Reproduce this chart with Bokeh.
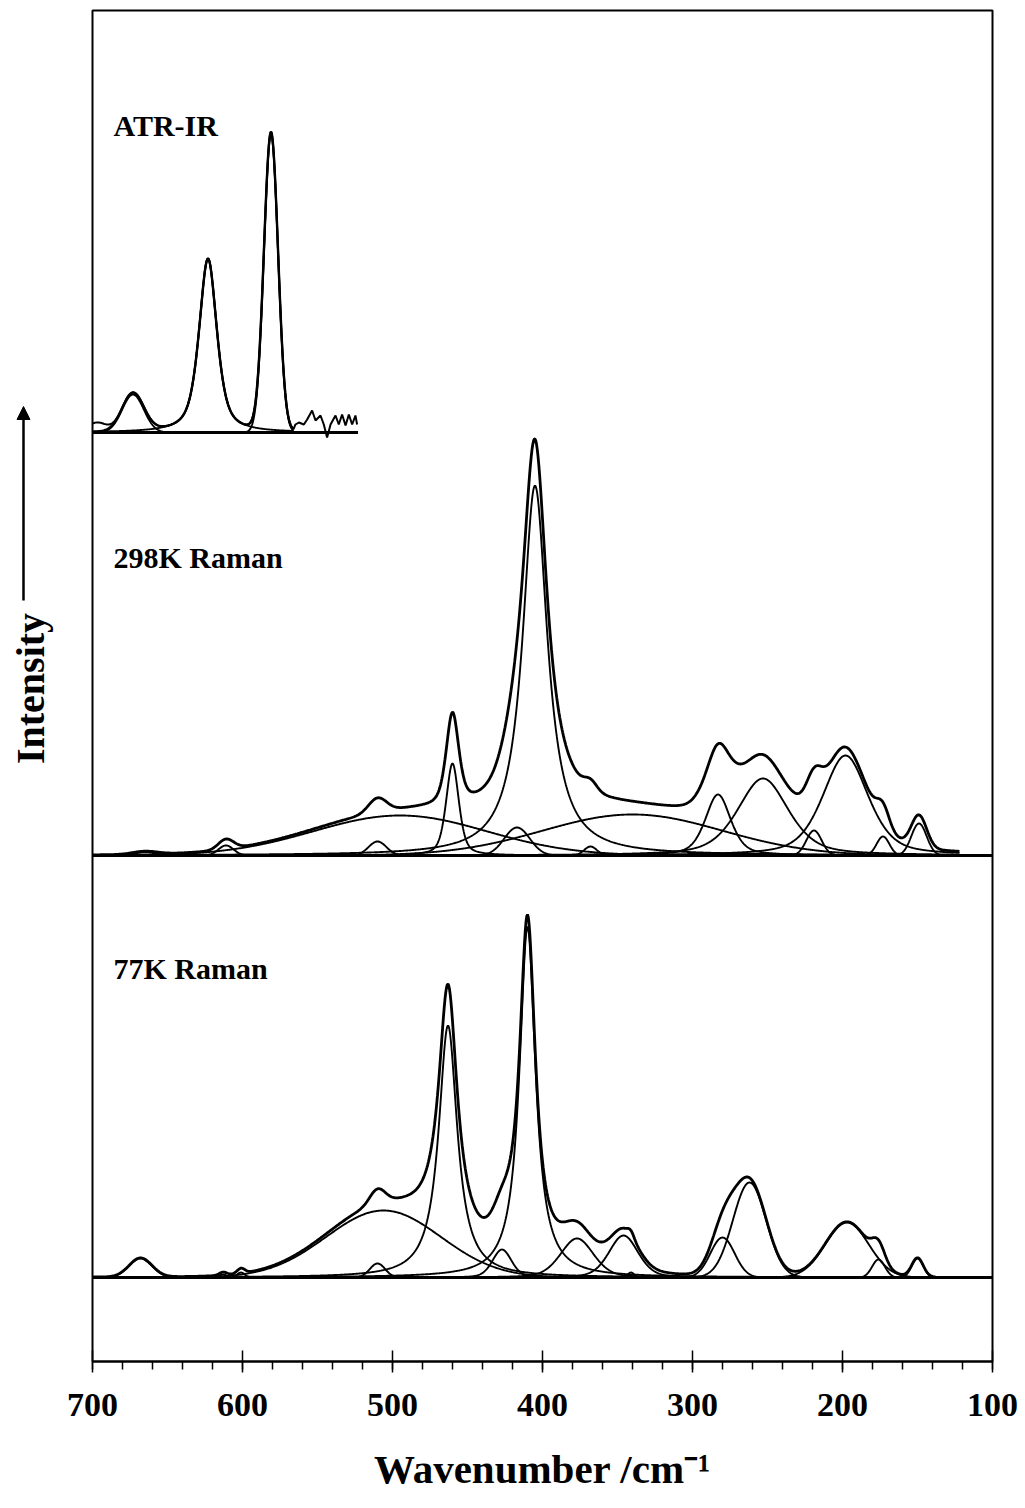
import numpy as np
from bokeh.plotting import figure
from bokeh.layouts import row
from bokeh.models import Range1d, FixedTicker, Arrow, NormalHead
from bokeh.core.properties import value
from bokeh.embed import file_html
from bokeh.resources import INLINE

# ---------------- data ----------------
x_ticks = [700, 600, 500, 400, 300, 200, 100]
x_minor = list(range(100, 701, 20))

# vertical offsets of the three traces (intensity units)
base_77k = 84
base_298k = 506
base_atr = 929

# band parameters: centre (cm-1), height, FWHM (cm-1), Lorentzian fraction
atr_center = [673, 623, 581]
atr_height = [38, 174, 298]
atr_fwhm = [17, 14, 11]
atr_eta = [0.0, 0.6, 0.0]
atr_extra_center = [697]          # weak feature only in the measured trace
atr_extra_height = [9]
atr_extra_fwhm = [14]
atr_range = [700, 566]
atr_tail_wn = [564.7, 562.4, 559.1, 556.9, 553.6, 551.3, 548.0, 545.8, 543.6,
               541.3, 538.0, 535.8, 533.6, 531.3, 529.1, 526.9, 524.7, 523.6]
atr_tail_h = [8, 10, 8, 13, 22, 12, 17, 8, -5, 8, 17, 8, 18, 7, 18, 8, 17, 8]
atr_base_end = 523

r298_center = [665, 611, 510, 495, 460, 417, 405, 368, 340, 283, 253, 219, 198, 173, 149]
r298_height = [3, 10, 14, 40, 92, 28, 370, 9, 41, 61, 77, 25, 100, 19, 32]
r298_fwhm = [20, 12, 14, 136, 10, 20, 20, 10, 141, 20, 40, 12, 36, 10, 12]
r298_eta = [0, 0, 0, 0, 0.5, 0, 1.0, 0, 0, 0.5, 0.5, 0, 0.5, 0, 0]
r298_range = [700, 122]

r77_center = [668, 613, 601, 510, 506, 463, 427, 410, 377, 346, 341, 280, 262, 197, 176, 150]
r77_height = [19, 3, 5, 14, 67, 252, 28, 351, 39, 42, 5, 40, 95, 55, 18, 19]
r77_fwhm = [18, 6, 6, 12, 90, 15, 15, 13, 26, 23, 5, 19, 26, 34, 10, 9]
r77_eta = [0, 0, 0, 0, 0, 1.0, 0.3, 1.0, 0.3, 0.3, 0, 0, 0, 0, 0, 0]
r77_range = [700, 138]

panel_names = ["ATR-IR", "298K Raman", "77K Raman"]
panel_label_y = [1236, 804, 393]
panel_label_x = 686


def band(x, c, h, w, eta):
    d = (x - c) / w
    g = np.exp(-4 * np.log(2) * d * d)
    lo = 1.0 / (1.0 + 4 * d * d)
    return h * ((1 - eta) * g + eta * lo)


FONT = value("Liberation Serif")
TOTAL_H = 1501
STRIP_W = 62

# ---------------- left strip: "Intensity" and arrow ----------------
left = figure(frame_width=STRIP_W, frame_height=TOTAL_H, min_border=0,
              x_range=Range1d(0, STRIP_W), y_range=Range1d(0, TOTAL_H),
              x_axis_location=None, y_axis_location=None,
              output_backend="svg", toolbar_location=None)
left.grid.visible = False
left.outline_line_color = None
left.background_fill_color = "white"
left.border_fill_color = "white"
left.text(x=[30], y=[TOTAL_H - 678], text=["Intensity"], angle=np.pi / 2,
          text_font=FONT, text_font_style="bold", text_font_size="40px",
          text_color="black", text_align="center", text_baseline="middle")
left.add_layout(Arrow(end=NormalHead(size=13, fill_color="black", line_color="black"),
                      x_start=23, y_start=TOTAL_H - 590, x_end=23, y_end=TOTAL_H - 396,
                      line_color="black", line_width=2.5))

# ---------------- main plot ----------------
p = figure(frame_width=900, frame_height=1351,
           min_border_left=92 - STRIP_W, min_border_right=30,
           min_border_top=10, min_border_bottom=140,
           x_range=Range1d(700, 100), y_range=Range1d(0, 1351),
           y_axis_location=None,
           output_backend="svg", toolbar_location=None)

p.background_fill_color = "white"
p.border_fill_color = "white"
p.grid.visible = False
p.outline_line_color = "black"
p.outline_line_width = 2

xa = p.xaxis[0]
xa.ticker = FixedTicker(ticks=x_ticks, minor_ticks=x_minor)
xa.axis_line_width = 2
xa.axis_line_color = "black"
xa.major_tick_in = 11
xa.major_tick_out = 11
xa.major_tick_line_width = 1.5
xa.minor_tick_in = 0
xa.minor_tick_out = 8
xa.minor_tick_line_width = 1.5
xa.major_label_text_font = "Liberation Serif"
xa.major_label_text_font_style = "bold"
xa.major_label_text_font_size = "34px"
xa.major_label_text_color = "black"
xa.major_label_standoff = 21
xa.axis_label = "Wavenumber /cm\u207b\u00b9"
xa.axis_label_text_font = "Liberation Serif"
xa.axis_label_text_font_style = "bold"
xa.axis_label_text_font_size = "41px"
xa.axis_label_text_color = "black"
xa.axis_label_standoff = 27


def draw(centers, heights, fwhms, etas, rng, base):
    x = np.arange(rng[0], rng[1] - 0.01, -0.5)
    total = np.zeros_like(x)
    for c, h, w, e in zip(centers, heights, fwhms, etas):
        comp = band(x, c, h, w, e)
        total += comp
        p.line(x, base + comp, line_color="black", line_width=1.9)
    return x, total

# ATR-IR
x_atr, tot_atr = draw(atr_center, atr_height, atr_fwhm, atr_eta, atr_range, base_atr)
p.line(x_atr, base_atr + tot_atr, line_color="black", line_width=2.4)
meas = tot_atr.copy()
for c, h, w in zip(atr_extra_center, atr_extra_height, atr_extra_fwhm):
    meas += band(x_atr, c, h, w, 0)
xm = np.concatenate([x_atr, np.array(atr_tail_wn)])
ym = np.concatenate([base_atr + meas, base_atr + np.array(atr_tail_h)])
p.line(xm, ym, line_color="black", line_width=2.0)
p.line([700, atr_base_end], [base_atr, base_atr], line_color="black", line_width=3)

# 298 K Raman
x298, tot298 = draw(r298_center, r298_height, r298_fwhm, r298_eta, r298_range, base_298k)
p.line(x298, base_298k + tot298, line_color="black", line_width=2.8)
p.line([700, 100], [base_298k, base_298k], line_color="black", line_width=3)

# 77 K Raman
x77, tot77 = draw(r77_center, r77_height, r77_fwhm, r77_eta, r77_range, base_77k)
p.line(x77, base_77k + tot77, line_color="black", line_width=2.8)
p.line([700, 100], [base_77k, base_77k], line_color="black", line_width=3)

p.text(x=[panel_label_x] * 3, y=panel_label_y, text=panel_names,
       text_font=FONT, text_font_style="bold", text_font_size="30px",
       text_color="black", text_baseline="alphabetic", text_align="left")

layout = row(left, p)
open("out.html", "w").write(file_html(layout, INLINE))
